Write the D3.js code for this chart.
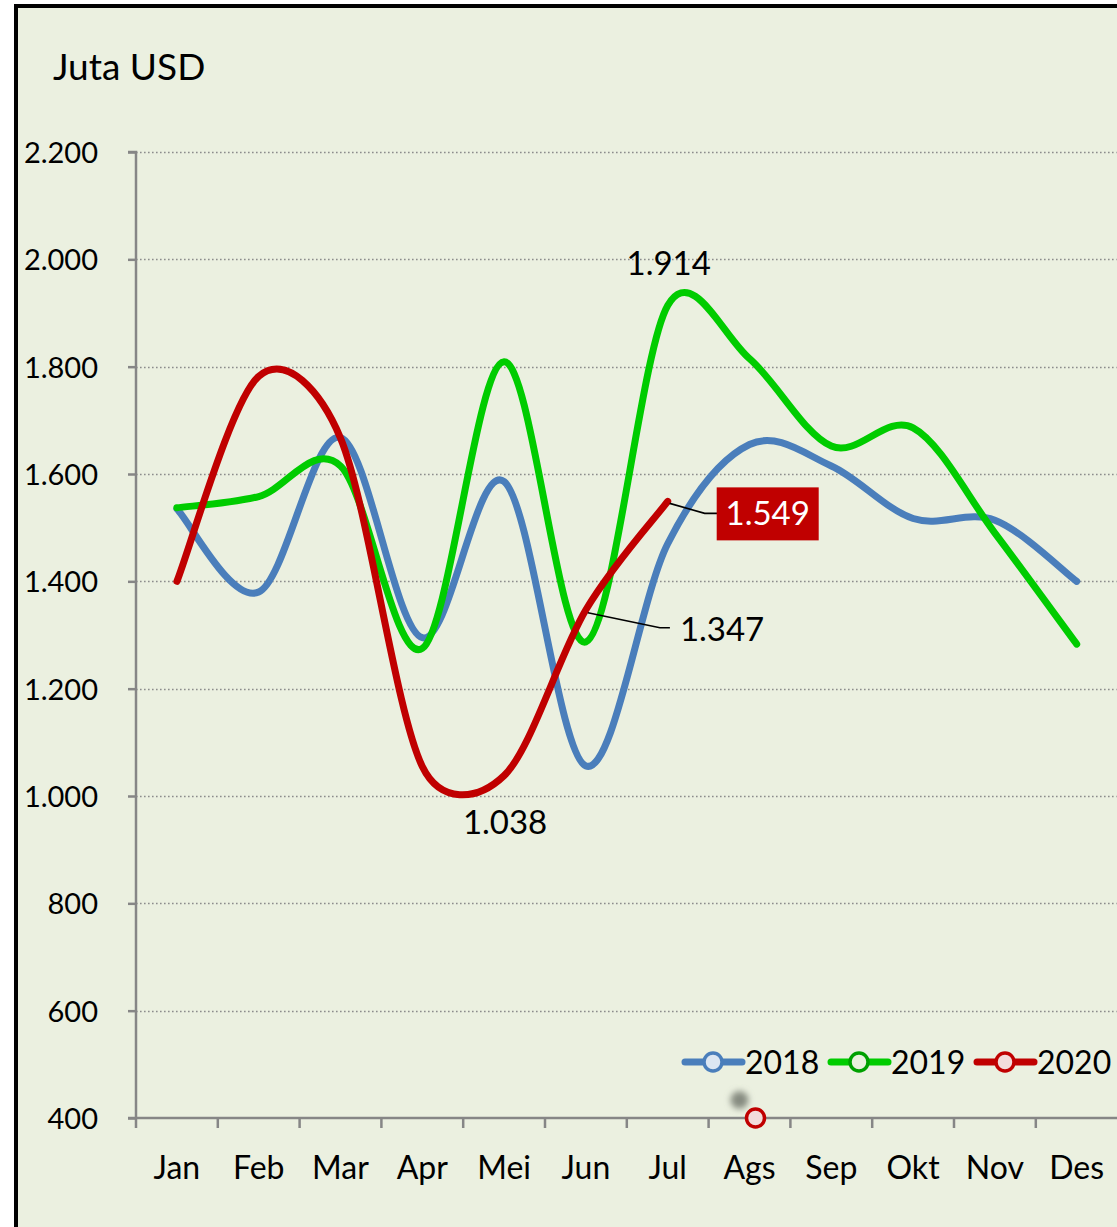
<!DOCTYPE html>
<html>
<head>
<meta charset="utf-8">
<script src="https://cdn.jsdelivr.net/npm/d3@7"></script>
<style>
  html, body { margin: 0; padding: 0; background: #ffffff; }
  svg { display: block; }
  text { font-family: Lato, "Open Sans", sans-serif; fill: #000; }
</style>
</head>
<body>
<svg id="chart" width="1117" height="1227"></svg>
<script>
// Monthly values, in millions of USD
const months = ["Jan", "Feb", "Mar", "Apr", "Mei", "Jun", "Jul", "Ags", "Sep", "Okt", "Nov", "Des"];
const v2018 = [1535, 1380, 1668, 1295, 1586, 1056, 1470, 1655, 1615, 1517, 1514, 1400];
const v2019 = [1537, 1558, 1615, 1275, 1809, 1287, 1914, 1815, 1652, 1686, 1490, 1283];
const v2020 = [1400, 1782, 1667, 1055, 1038, 1347, 1549];
const yTicks = [400, 600, 800, 1000, 1200, 1400, 1600, 1800, 2000, 2200];
const seriesNames = ["2018", "2019", "2020"];
const seriesColors = ["#4A7EBB", "#00CC00", "#C00000"];
const markerFills = ["#DCE6F2", "#EBF1DE", "#F2DCDB"];

const W = 1117, H = 1227;
const plot = { left: 136, right: 1117.6, top: 152, bottom: 1118 };

const svg = d3.select("#chart");

// chart background and frame
svg.append("rect").attr("x", 16).attr("y", 6).attr("width", W + 10).attr("height", H + 10)
  .attr("fill", "#EBF0E0").attr("stroke", "#000").attr("stroke-width", 4);

const x = d3.scaleBand().domain(months).range([plot.left, plot.right]).padding(0);
const xc = m => x(m) + x.bandwidth() / 2;
const y = d3.scaleLinear().domain([400, 2200]).range([plot.bottom, plot.top]);

const idLocale = d3.formatLocale({ decimal: ",", thousands: ".", grouping: [3], currency: ["", ""] });
const fmt = idLocale.format(",d");

// horizontal dotted grid
svg.append("g").selectAll("line").data(yTicks.filter(t => t > 400)).join("line")
  .attr("x1", plot.left).attr("x2", plot.right - 1)
  .attr("y1", d => Math.round(y(d)) + 0.5).attr("y2", d => Math.round(y(d)) + 0.5)
  .attr("stroke", "#8C8C8C").attr("stroke-width", 1.6).attr("stroke-dasharray", "1.6,2.4");

// y axis
const yAxis = d3.axisLeft(y).tickValues(yTicks).tickFormat(fmt).tickSize(8).tickPadding(30);
const gy = svg.append("g").attr("transform", `translate(${plot.left},0)`).call(yAxis);
gy.select(".domain").attr("stroke", "#868686").attr("stroke-width", 2.5).attr("d", `M-8,${plot.top}H0V${plot.bottom}`);
gy.selectAll(".tick line").attr("stroke", "#868686").attr("stroke-width", 2.5);
gy.selectAll(".tick text").attr("font-size", 29).attr("font-family", "Lato, sans-serif").attr("fill", "#000").attr("dy", "0.36em");

// x axis with ticks on category boundaries
const gx = svg.append("g").attr("transform", `translate(0,${plot.bottom})`);
gx.append("line").attr("x1", plot.left - 8).attr("x2", plot.right).attr("y1", 0).attr("y2", 0)
  .attr("stroke", "#868686").attr("stroke-width", 2.5);
const bounds = months.map(m => x(m));
gx.selectAll("line.tk").data(bounds).join("line").attr("class", "tk")
  .attr("x1", d => d).attr("x2", d => d).attr("y1", 0).attr("y2", 10)
  .attr("stroke", "#868686").attr("stroke-width", 2.5);
gx.selectAll("text").data(months).join("text")
  .attr("x", d => xc(d)).attr("y", 61).attr("text-anchor", "middle")
  .attr("font-size", 32).text(d => d);

// y-axis unit title
svg.append("text").attr("x", 53).attr("y", 80).attr("font-size", 37).text("Juta USD");

// smoothed line: cubic Bezier with 1/6 tangents, limited to half the segment length
function smoothPath(pts) {
  const p = d3.path();
  p.moveTo(pts[0][0], pts[0][1]);
  const ctrl = (a, c, segLen) => {
    let dx = (c[0] - a[0]) / 6, dy = (c[1] - a[1]) / 6;
    const len = Math.hypot(dx, dy), lim = segLen / 2;
    if (len > lim && len > 0) { dx *= lim / len; dy *= lim / len; }
    return [dx, dy];
  };
  for (let i = 0; i < pts.length - 1; i++) {
    const p0 = pts[Math.max(i - 1, 0)], p1 = pts[i], p2 = pts[i + 1], p3 = pts[Math.min(i + 2, pts.length - 1)];
    const seg = Math.hypot(p2[0] - p1[0], p2[1] - p1[1]);
    const t1 = ctrl(p0, p2, seg), t2 = ctrl(p1, p3, seg);
    p.bezierCurveTo(p1[0] + t1[0], p1[1] + t1[1], p2[0] - t2[0], p2[1] - t2[1], p2[0], p2[1]);
  }
  return p.toString();
}

const series = [v2018, v2019, v2020];
series.forEach((vals, i) => {
  const pts = vals.map((v, j) => [xc(months[j]), y(v)]);
  svg.append("path").attr("d", smoothPath(pts)).attr("fill", "none")
    .attr("stroke", seriesColors[i]).attr("stroke-width", 7)
    .attr("stroke-linecap", "round").attr("stroke-linejoin", "round");
});

// data labels
const jul = xc("Jul"), mei = xc("Mei"), jun = xc("Jun");
svg.append("text").attr("x", jul + 1).attr("y", y(1914) - 30).attr("text-anchor", "middle")
  .attr("font-size", 33).text(fmt(1914));
svg.append("text").attr("x", mei + 1).attr("y", y(1038) + 58).attr("text-anchor", "middle")
  .attr("font-size", 33).text(fmt(1038));

// leader for Jun 2020
svg.append("path").attr("d", `M${jun + 2},${y(1347) + 3}L${jun + 74},${y(1347) + 18}H${jun + 84}`)
  .attr("fill", "none").attr("stroke", "#000").attr("stroke-width", 1.6);
svg.append("text").attr("x", jun + 94).attr("y", y(1347) + 31).attr("font-size", 33).text(fmt(1347));

// leader and boxed label for Jul 2020
svg.append("path").attr("d", `M${jul + 2},${y(1549) + 2}L${jul + 37},${y(1549) + 12}H${jul + 50}`)
  .attr("fill", "none").attr("stroke", "#000").attr("stroke-width", 1.6);
svg.append("rect").attr("x", jul + 49).attr("y", y(1549) - 14).attr("width", 102).attr("height", 53)
  .attr("fill", "#C00000");
svg.append("text").attr("x", jul + 100).attr("y", y(1549) + 24).attr("text-anchor", "middle")
  .attr("font-size", 33).style("fill", "#fff").text(fmt(1549));

// stray marker near the Ags axis position
const defs = svg.append("defs");
defs.append("filter").attr("id", "soft").attr("x", "-50%").attr("y", "-50%").attr("width", "200%").attr("height", "200%")
  .append("feGaussianBlur").attr("stdDeviation", 3);
svg.append("circle").attr("cx", xc("Ags") - 10).attr("cy", y(400) - 18).attr("r", 9)
  .attr("fill", "#868B80").attr("filter", "url(#soft)");
svg.append("circle").attr("cx", xc("Ags") + 6).attr("cy", y(400)).attr("r", 9)
  .attr("fill", markerFills[2]).attr("stroke", seriesColors[2]).attr("stroke-width", 3.5);

// legend
const legendX = [685, 831, 977];
const legendY = 1062;
const lg = svg.append("g");
seriesNames.forEach((name, i) => {
  const g = lg.append("g").attr("transform", `translate(${legendX[i]},${legendY})`);
  g.append("line").attr("x1", 0).attr("x2", 57).attr("y1", 0).attr("y2", 0)
    .attr("stroke", seriesColors[i]).attr("stroke-width", 7).attr("stroke-linecap", "round");
  g.append("circle").attr("cx", 28).attr("cy", 0).attr("r", 9)
    .attr("fill", markerFills[i]).attr("stroke", i === 1 ? "#00A000" : seriesColors[i]).attr("stroke-width", 3.5);
  g.append("text").attr("x", 60).attr("y", 12).attr("font-size", 32).text(name);
});
</script>
</body>
</html>
